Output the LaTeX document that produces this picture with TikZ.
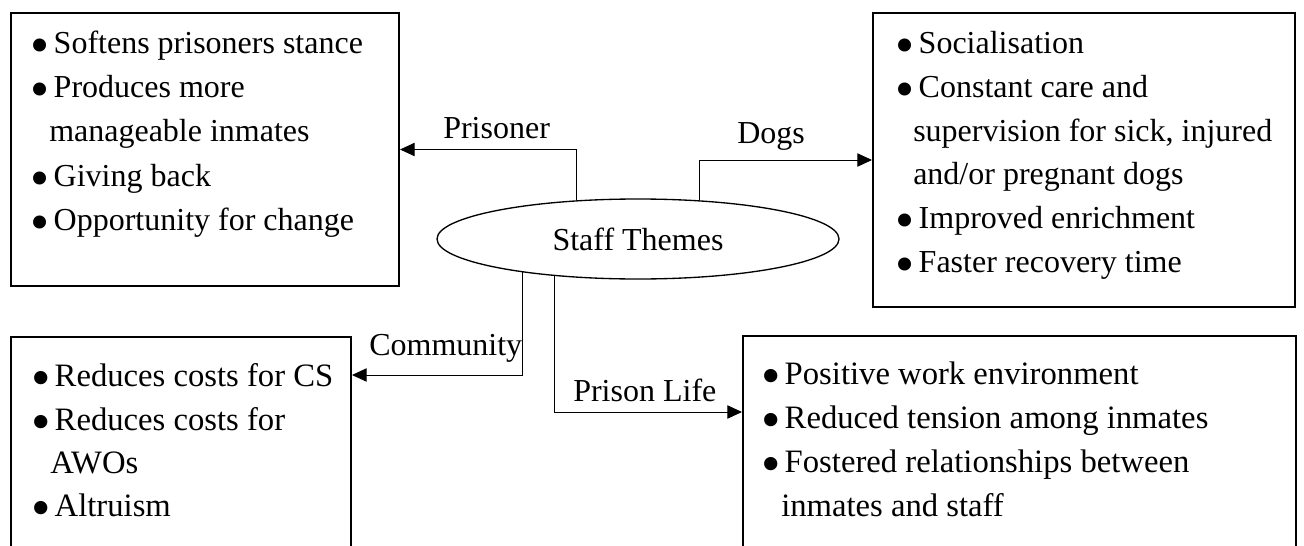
\documentclass[tikz,border=0pt]{standalone}
\usepackage{fontspec}
\setmainfont{Liberation Serif}
\usetikzlibrary{arrows.meta,shapes.geometric}
\newcommand\bul{\makebox[17.6pt][l]{\smash{\raisebox{-0.33em}{\scalebox{1.7}{•}}}}}
\begin{document}
\begin{tikzpicture}[x=0.75pt,y=-0.75pt,
  box/.style={draw, line width=1.5pt, rectangle, inner sep=0pt, anchor=north west},
  conn/.style={draw, line width=0.75pt, -{Triangle[length=11pt,width=10pt]}},
  ln/.style={anchor=base west, inner sep=0pt, font=\fontsize{24}{29}\selectfont},
  bln/.style={anchor=base west, inner sep=0pt, font=\fontsize{24.5}{29}\selectfont},
]
\useasboundingbox (0,0) rectangle (1304,546);
\clip (0,0) rectangle (1304,546);

% boxes
\node[box, minimum width=291pt, minimum height=204.75pt] (tlbox) at (10,12) {};
\node[box, minimum width=316.5pt, minimum height=220.5pt] (trbox) at (872,12) {};
\node[box, minimum width=255pt, minimum height=225pt] (blbox) at (10,336) {};
\node[box, minimum width=414.75pt, minimum height=225pt] (brbox) at (742,335) {};

% centre ellipse
\node[ellipse, draw, line width=1pt, minimum width=301.5pt, minimum height=60pt,
      inner sep=0pt, font=\fontsize{24}{29}\selectfont] (st) at (638,239) {Staff Themes};

% top-left text
\node[ln] (tl1) at (30,53) {\bul Softens prisoners stance};
\node[ln] (tl2) at (30,97) {\bul Produces more};
\node[ln] (tl3) at (49,141) {manageable inmates};
\node[ln] (tl4) at (30,186) {\bul Giving back};
\node[ln] (tl5) at (30,230) {\bul Opportunity for change};

% top-right text
\node[ln] (tr1) at (895,53) {\bul Socialisation};
\node[ln] (tr2) at (895,97) {\bul Constant care and};
\node[ln] (tr3) at (913,141) {supervision for sick, injured};
\node[ln] (tr4) at (913,184) {and/or pregnant dogs};
\node[ln] (tr5) at (895,228) {\bul Improved enrichment};
\node[ln] (tr6) at (895,272) {\bul Faster recovery time};

% bottom-left text
\node[bln] (bl1) at (31,386) {\bul Reduces costs for CS};
\node[bln] (bl2) at (31,430) {\bul Reduces costs for};
\node[bln] (bl3) at (50,473) {AWOs};
\node[bln] (bl4) at (31,516) {\bul Altruism};

% bottom-right text
\node[bln] (br1) at (761,384) {\bul Positive work environment};
\node[bln] (br2) at (761,428) {\bul Reduced tension among inmates};
\node[bln] (br3) at (761,472) {\bul Fostered relationships between};
\node[bln] (br4) at (781,516) {inmates and staff};

% connector labels
\node[ln] (lp) at (443,138) {Prisoner};
\node[ln] (ld) at (737,143) {Dogs};
\node[ln] (lc) at (369,355) {Community};
\node[ln] (lpl) at (573,401) {Prison Life};

% connectors
\coordinate (cy) at (0,375);
\coordinate (py) at (0,412);
\draw[conn] (st.148.9) |- (tlbox.east);
\draw[conn] (st.32) |- (trbox.west);
\draw[conn] (st.196.5) |- (blbox.east |- cy);
\draw[conn] (st.204) |- (brbox.west |- py);
\end{tikzpicture}
\end{document}
